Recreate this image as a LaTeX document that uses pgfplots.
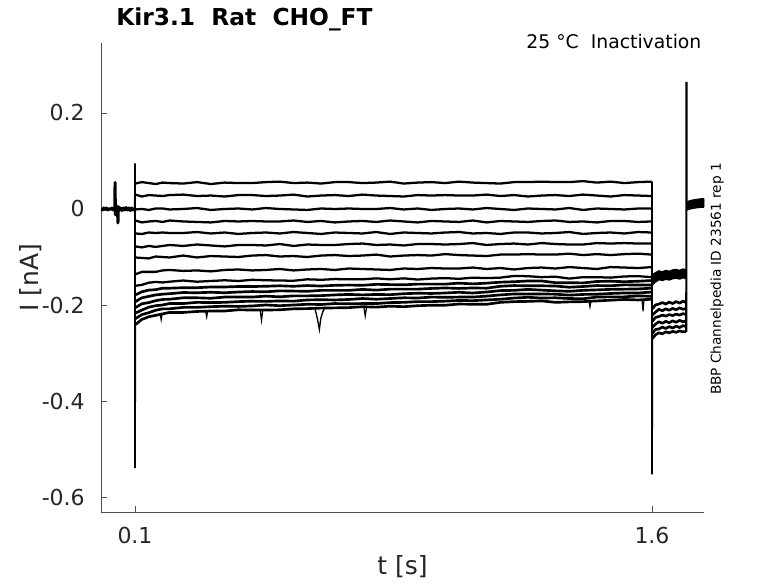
\documentclass[border=0pt]{standalone}
\usepackage{fontspec}
\setmainfont{DejaVu Sans}
\usepackage{pgfplots}
\usepackage{pgfplotstable}
\pgfplotsset{compat=1.18}
\definecolor{axgray}{RGB}{80,80,80}
\definecolor{labgray}{RGB}{38,38,38}

\pgfplotstableread{
t a b c d e f g h i j k l m n o
0.101 0.053 0.030 -0.001 -0.024 -0.051 -0.078 -0.101 -0.136 -0.1600 -0.1790 -0.1930 -0.2055 -0.2170 -0.2285 -0.2410
0.12 0.056 0.026 0.000 -0.028 -0.052 -0.080 -0.102 -0.131 -0.1580 -0.1725 -0.1850 -0.1975 -0.2105 -0.2200 -0.2300
0.14 0.054 0.029 -0.002 -0.026 -0.049 -0.077 -0.103 -0.131 -0.1535 -0.1690 -0.1820 -0.1950 -0.2045 -0.2160 -0.2245
0.16 0.052 0.028 0.001 -0.025 -0.050 -0.079 -0.099 -0.131 -0.1520 -0.1680 -0.1790 -0.1910 -0.2015 -0.2110 -0.2215
0.18 0.055 0.027 0.001 -0.027 -0.049 -0.077 -0.100 -0.128 -0.1530 -0.1650 -0.1775 -0.1885 -0.2000 -0.2080 -0.2185
0.20 0.054 0.029 -0.001 -0.024 -0.050 -0.075 -0.101 -0.127 -0.1515 -0.1650 -0.1765 -0.1880 -0.1970 -0.2080 -0.2155
0.24 0.053 0.030 0.000 -0.026 -0.050 -0.077 -0.097 -0.129 -0.1490 -0.1640 -0.1740 -0.1850 -0.1970 -0.2050 -0.2155
0.28 0.056 0.027 0.002 -0.027 -0.048 -0.074 -0.101 -0.128 -0.1515 -0.1640 -0.1745 -0.1850 -0.1945 -0.2050 -0.2135
0.32 0.052 0.028 -0.002 -0.028 -0.051 -0.076 -0.098 -0.130 -0.1500 -0.1625 -0.1735 -0.1860 -0.1950 -0.2035 -0.2125
0.36 0.055 0.026 0.000 -0.025 -0.049 -0.078 -0.099 -0.127 -0.1485 -0.1625 -0.1745 -0.1835 -0.1945 -0.2025 -0.2125
0.40 0.054 0.029 0.001 -0.026 -0.052 -0.075 -0.100 -0.126 -0.1500 -0.1615 -0.1730 -0.1835 -0.1930 -0.2030 -0.2100
0.44 0.054 0.029 -0.001 -0.025 -0.050 -0.075 -0.097 -0.128 -0.1475 -0.1615 -0.1720 -0.1835 -0.1920 -0.2020 -0.2105
0.48 0.056 0.027 0.002 -0.026 -0.049 -0.076 -0.096 -0.127 -0.1485 -0.1610 -0.1725 -0.1815 -0.1925 -0.2000 -0.2105
0.52 0.057 0.028 0.000 -0.026 -0.051 -0.073 -0.099 -0.125 -0.1490 -0.1600 -0.1705 -0.1830 -0.1915 -0.2015 -0.2100
0.56 0.054 0.030 -0.001 -0.024 -0.048 -0.077 -0.098 -0.128 -0.1495 -0.1610 -0.1710 -0.1810 -0.1920 -0.2000 -0.2080
0.60 0.055 0.026 -0.002 -0.027 -0.050 -0.074 -0.100 -0.126 -0.1465 -0.1595 -0.1715 -0.1810 -0.1895 -0.1985 -0.2075
0.64 0.053 0.028 0.001 -0.025 -0.052 -0.075 -0.097 -0.125 -0.1475 -0.1605 -0.1695 -0.1805 -0.1890 -0.1990 -0.2065
0.68 0.056 0.029 0.000 -0.028 -0.049 -0.075 -0.096 -0.127 -0.1460 -0.1590 -0.1695 -0.1790 -0.1895 -0.1970 -0.2060
0.72 0.056 0.027 0.001 -0.026 -0.050 -0.073 -0.098 -0.124 -0.1465 -0.1585 -0.1695 -0.1780 -0.1885 -0.1975 -0.2055
0.76 0.054 0.030 0.000 -0.025 -0.051 -0.072 -0.097 -0.125 -0.1465 -0.1590 -0.1675 -0.1790 -0.1865 -0.1970 -0.2035
0.80 0.055 0.028 0.000 -0.027 -0.048 -0.075 -0.095 -0.126 -0.1445 -0.1570 -0.1690 -0.1780 -0.1880 -0.1970 -0.2045
0.84 0.057 0.027 0.002 -0.024 -0.052 -0.074 -0.099 -0.127 -0.1465 -0.1575 -0.1670 -0.1785 -0.1865 -0.1950 -0.2025
0.88 0.053 0.026 -0.001 -0.026 -0.049 -0.076 -0.097 -0.124 -0.1445 -0.1580 -0.1670 -0.1765 -0.1850 -0.1945 -0.2035
0.92 0.055 0.029 0.001 -0.028 -0.050 -0.073 -0.096 -0.125 -0.1470 -0.1565 -0.1670 -0.1755 -0.1855 -0.1930 -0.2015
0.96 0.056 0.028 -0.002 -0.025 -0.051 -0.073 -0.097 -0.123 -0.1450 -0.1565 -0.1655 -0.1760 -0.1835 -0.1930 -0.2005
1.00 0.054 0.029 0.000 -0.026 -0.049 -0.074 -0.094 -0.124 -0.1440 -0.1565 -0.1645 -0.1750 -0.1840 -0.1920 -0.2005
1.04 0.057 0.028 0.001 -0.027 -0.048 -0.073 -0.096 -0.124 -0.1455 -0.1545 -0.1655 -0.1735 -0.1835 -0.1905 -0.1980
1.08 0.055 0.028 -0.001 -0.024 -0.051 -0.071 -0.097 -0.122 -0.1430 -0.1560 -0.1645 -0.1750 -0.1835 -0.1910 -0.1985
1.12 0.054 0.030 0.002 -0.028 -0.050 -0.075 -0.098 -0.125 -0.1440 -0.1545 -0.1650 -0.1730 -0.1815 -0.1895 -0.1985
1.16 0.053 0.027 0.000 -0.025 -0.052 -0.073 -0.095 -0.123 -0.1430 -0.1525 -0.1610 -0.1700 -0.1790 -0.1880 -0.1945
1.20 0.056 0.029 -0.002 -0.026 -0.049 -0.072 -0.095 -0.126 -0.1395 -0.1515 -0.1595 -0.1695 -0.1770 -0.1855 -0.1930
1.24 0.056 0.026 0.001 -0.027 -0.049 -0.074 -0.094 -0.123 -0.1400 -0.1500 -0.1600 -0.1675 -0.1770 -0.1840 -0.1925
1.28 0.057 0.028 0.000 -0.025 -0.051 -0.071 -0.095 -0.122 -0.1420 -0.1500 -0.1600 -0.1690 -0.1770 -0.1855 -0.1915
1.32 0.056 0.029 -0.001 -0.024 -0.050 -0.073 -0.095 -0.124 -0.1410 -0.1535 -0.1605 -0.1705 -0.1775 -0.1850 -0.1945
1.36 0.056 0.027 0.002 -0.027 -0.048 -0.074 -0.093 -0.121 -0.1450 -0.1535 -0.1630 -0.1715 -0.1795 -0.1865 -0.1935
1.40 0.058 0.030 -0.002 -0.026 -0.052 -0.074 -0.096 -0.123 -0.1420 -0.1540 -0.1615 -0.1695 -0.1780 -0.1870 -0.1930
1.44 0.055 0.028 0.001 -0.028 -0.050 -0.071 -0.094 -0.125 -0.1420 -0.1510 -0.1595 -0.1685 -0.1775 -0.1835 -0.1915
1.48 0.057 0.026 0.000 -0.025 -0.049 -0.072 -0.096 -0.121 -0.1430 -0.1505 -0.1600 -0.1675 -0.1760 -0.1830 -0.1900
1.52 0.054 0.029 -0.001 -0.025 -0.051 -0.071 -0.094 -0.122 -0.1405 -0.1515 -0.1580 -0.1670 -0.1750 -0.1830 -0.1885
1.56 0.056 0.028 0.001 -0.027 -0.048 -0.072 -0.093 -0.123 -0.1400 -0.1505 -0.1585 -0.1665 -0.1750 -0.1810 -0.1895
1.599 0.057 0.027 0.001 -0.026 -0.049 -0.072 -0.095 -0.121 -0.1420 -0.1490 -0.1585 -0.1650 -0.1730 -0.1820 -0.1880
}\pulse

\pgfplotstableread{
t a b c d e f g h i j k l m n o
1.601 -0.138 -0.141 -0.143 -0.146 -0.148 -0.150 -0.153 -0.155 -0.157 -0.208 -0.221 -0.234 -0.247 -0.259 -0.270
1.61 -0.134 -0.137 -0.138 -0.141 -0.142 -0.145 -0.146 -0.149 -0.151 -0.200 -0.215 -0.226 -0.240 -0.251 -0.262
1.62 -0.130 -0.134 -0.134 -0.138 -0.138 -0.142 -0.142 -0.146 -0.146 -0.198 -0.209 -0.224 -0.235 -0.250 -0.258
1.63 -0.132 -0.132 -0.136 -0.136 -0.140 -0.140 -0.144 -0.144 -0.148 -0.195 -0.212 -0.221 -0.238 -0.246 -0.260
1.64 -0.129 -0.134 -0.133 -0.138 -0.137 -0.142 -0.141 -0.146 -0.145 -0.198 -0.208 -0.223 -0.234 -0.249 -0.256
1.65 -0.131 -0.131 -0.135 -0.135 -0.139 -0.139 -0.143 -0.143 -0.147 -0.194 -0.211 -0.220 -0.237 -0.245 -0.258
1.66 -0.128 -0.132 -0.132 -0.136 -0.136 -0.140 -0.140 -0.144 -0.144 -0.197 -0.207 -0.222 -0.233 -0.248 -0.255
1.67 -0.127 -0.129 -0.131 -0.133 -0.135 -0.137 -0.139 -0.141 -0.143 -0.193 -0.210 -0.219 -0.236 -0.244 -0.257
1.68 -0.129 -0.131 -0.133 -0.135 -0.137 -0.139 -0.141 -0.143 -0.145 -0.196 -0.206 -0.221 -0.232 -0.247 -0.254
1.69 -0.126 -0.130 -0.130 -0.134 -0.134 -0.138 -0.138 -0.142 -0.142 -0.192 -0.209 -0.218 -0.235 -0.243 -0.256
1.699 -0.128 -0.130 -0.132 -0.134 -0.136 -0.138 -0.140 -0.142 -0.144 -0.195 -0.207 -0.220 -0.233 -0.245 -0.255
}\tail

\pgfplotstableread{
t a b c d e f g h i j k l m n o
1.7005 0.014 0.013 0.012 0.011 0.010 0.009 0.008 0.007 0.006 0.004 0.003 0.002 0.001 0.000 -0.001
1.715 0.017 0.016 0.016 0.014 0.013 0.012 0.011 0.011 0.009 0.007 0.006 0.005 0.005 0.003 0.002
1.73 0.019 0.017 0.017 0.016 0.015 0.013 0.013 0.011 0.011 0.008 0.008 0.006 0.005 0.004 0.004
1.752 0.021 0.020 0.018 0.018 0.016 0.016 0.014 0.013 0.012 0.010 0.009 0.008 0.007 0.006 0.005
}\post

\begin{document}
\begin{tikzpicture}
\begin{axis}[
  at={(0pt,0pt)}, anchor=south west,
  width=452.25pt, height=351.75pt, scale only axis,
  xmin=0.00135, xmax=1.7509, ymin=-0.63125, ymax=0.3458,
  axis x line*=bottom, axis y line*=left,
  axis line style={-, draw=axgray, line width=0.6pt},
  tick align=inside, major tick length=4.5pt,
  tick style={draw=axgray, line width=0.6pt},
  xtick={0.1,1.6}, xticklabels={0.1,1.6},
  ytick={-0.6,-0.4,-0.2,0,0.2}, yticklabels={-0.6,-0.4,-0.2,0,0.2},
  ticklabel style={font=\fontsize{16.5pt}{19pt}\selectfont, text=labgray, inner sep=0pt},
  xticklabel style={anchor=north, yshift=-11pt},
  yticklabel style={anchor=east, xshift=-12pt},
  xlabel={t [s]}, ylabel={I [nA]},
  label style={font=\fontsize{18.75pt}{22pt}\selectfont, text=labgray},
  x label style={at={(axis description cs:0.5,-0.1173)}, anchor=center},
  y label style={at={(axis description cs:-0.1161,0.5)}, anchor=center},
  clip=true,
  tr/.style={black, line width=1.7pt, line join=round, mark=none},
  trb/.style={black, line width=2.0pt, line join=round, mark=none},
]
% baseline before the pulse
\addplot[black, line width=2.3pt, line join=round, mark=none] coordinates {
(0.0014,0.001)(0.005,-0.002)(0.009,0.002)(0.013,-0.001)(0.017,0.002)(0.021,-0.002)
(0.025,0.001)(0.029,-0.001)(0.033,0.002)(0.037,-0.002)(0.040,0.001)(0.0415,0.0)
(0.0422,0.055)(0.0430,-0.012)(0.0438,0.012)(0.0446,-0.006)(0.0458,0.003)
(0.0495,-0.002)(0.0505,-0.029)(0.0515,0.005)(0.054,-0.003)(0.058,0.002)
(0.062,-0.003)(0.066,0.002)(0.070,-0.002)(0.074,0.003)(0.078,-0.002)(0.082,0.002)
(0.086,-0.003)(0.090,0.002)(0.094,-0.002)(0.0995,0.001)};
% traces (upper, well separated)
\pgfplotsinvokeforeach{a,b,c,d,e,f,g,h,i}{
  \addplot[tr] table[x=t,y=#1]{\pulse};
  \addplot[tr] table[x=t,y=#1]{\tail};
  \addplot[tr] table[x=t,y=#1]{\post};
}
% traces (lower, dense band)
\pgfplotsinvokeforeach{j,k,l,m,n,o}{
  \addplot[trb] table[x=t,y=#1]{\pulse};
  \addplot[trb] table[x=t,y=#1]{\tail};
  \addplot[tr] table[x=t,y=#1]{\post};
}
% transients
\addplot[black, line width=1.3pt, mark=none] coordinates {(0.0995,0.000)(0.1,0.095)(0.1002,-0.54)(0.1006,-0.245)};
\addplot[black, line width=1.3pt, mark=none] coordinates {(1.5995,0.057)(1.6,0.056)(1.6002,-0.553)(1.6008,-0.27)};
\addplot[black, line width=1.6pt, mark=none] coordinates {(1.6995,-0.256)(1.7,0.265)(1.7005,0.005)};
% noise dips in the lower band
\addplot[black, line width=1.0pt, mark=none] coordinates {(0.622,-0.207)(0.629,-0.228)(0.635,-0.251)(0.639,-0.228)(0.645,-0.214)(0.650,-0.207)};
\addplot[black, line width=0.9pt, mark=none] coordinates {(0.463,-0.209)(0.467,-0.232)(0.471,-0.209)};
\addplot[black, line width=0.9pt, mark=none] coordinates {(0.764,-0.204)(0.768,-0.223)(0.772,-0.204)};
\addplot[black, line width=0.9pt, mark=none] coordinates {(1.417,-0.192)(1.420,-0.204)(1.423,-0.192)};
\addplot[black, line width=0.9pt, mark=none] coordinates {(1.571,-0.189)(1.574,-0.213)(1.577,-0.189)};
\addplot[black, line width=0.9pt, mark=none] coordinates {(0.305,-0.213)(0.308,-0.225)(0.311,-0.213)};
\addplot[black, line width=0.9pt, mark=none] coordinates {(0.173,-0.218)(0.176,-0.231)(0.179,-0.218)};
\end{axis}
\node[inner sep=0pt, anchor=base west, font=\fontsize{17.5pt}{21pt}\selectfont\bfseries] at (11.25pt,364.7pt) {Kir3.1\ \ Rat\ \ CHO\_FT};
\node[inner sep=0pt, anchor=base east, font=\fontsize{14.1pt}{17pt}\selectfont] at (450.5pt,347.25pt) {25 °C\ \ Inactivation};
\node[inner sep=0pt, rotate=90, anchor=center, font=\fontsize{10.25pt}{12pt}\selectfont] at (462pt,174.75pt) {BBP Channelpedia ID 23561 rep 1};
\pgfresetboundingbox
\path[use as bounding box] (-75.75pt,-53.25pt) rectangle (507.75pt,384pt);
\end{tikzpicture}
\end{document}
